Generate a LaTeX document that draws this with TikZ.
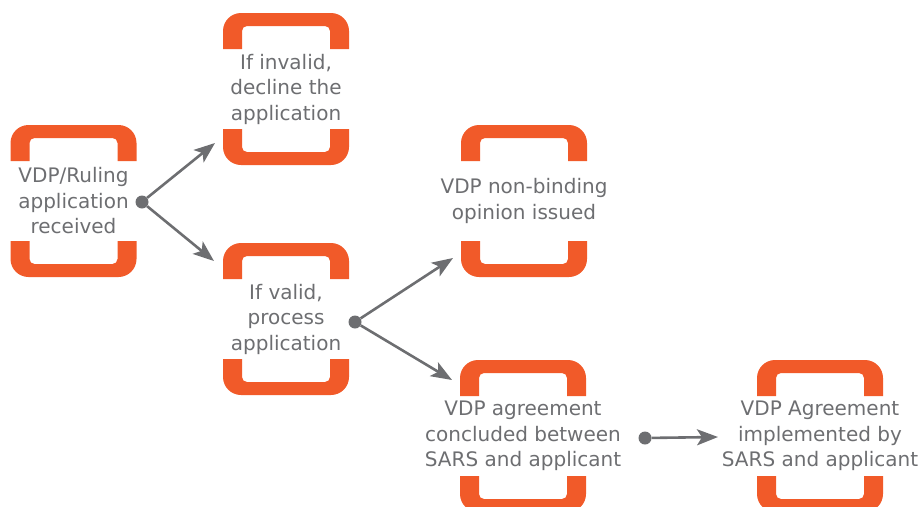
\documentclass[tikz,border=0pt]{standalone}
\usepackage{fontspec}
\setmainfont{DejaVu Sans}
\usetikzlibrary{arrows.meta}
\definecolor{sarsorange}{HTML}{F15A29}
\definecolor{sarsgrey}{HTML}{6D6E71}

\begin{document}
\begin{tikzpicture}[x=1pt, y=-1pt, >={Stealth[length=21pt, width=16pt, inset=5pt]}, line join=round,
	font=\fontsize{20}{25.5}\selectfont,
	stage/.style={minimum width=126pt, minimum height=152pt, inner sep=0pt, align=center, text=sarsgrey},
	knot/.style={circle, fill=sarsgrey, minimum size=13pt, inner sep=0pt},
	link/.style={->, line width=2.6pt, draw=sarsgrey}]
	\useasboundingbox (0,0) rectangle (920,506);
	
	% 1. Các bước
	\node[stage] (received) at (73.5,201) {VDP/Ruling\\application\\received};
	\node[stage] (invalid) at (286,89) {If invalid,\\decline the\\application};
	\node[stage] (valid) at (286,319) {If valid,\\process\\application};
	\node[stage] (opinion) at (524,201) {VDP non-binding\\opinion issued};
	\node[stage] (agreement) at (523,436) {VDP agreement\\concluded between\\SARS and applicant};
	\node[stage] (implemented) at (820,436) {VDP Agreement\\implemented by\\SARS and applicant};
	
	% 2. Khung ngoặc cam (trên và dưới)
	\foreach \n in {received,invalid,valid,opinion,agreement,implemented} {
		\begin{scope}[shift={(\n.center)}, shift={(-63,-76)}]
			\fill[sarsorange] (0,36) -- (0,18) arc[start angle=180, end angle=270, radius=18] -- (108,0)
				arc[start angle=270, end angle=360, radius=18] -- (126,36) -- (107,36) -- (107,18)
				arc[start angle=0, end angle=-90, radius=5] -- (24,13)
				arc[start angle=270, end angle=180, radius=5] -- (19,36) -- cycle;
		\end{scope}
		\begin{scope}[shift={(\n.center)}, shift={(-63,76)}, yscale=-1]
			\fill[sarsorange] (0,36) -- (0,18) arc[start angle=180, end angle=270, radius=18] -- (108,0)
				arc[start angle=270, end angle=360, radius=18] -- (126,36) -- (107,36) -- (107,18)
				arc[start angle=0, end angle=-90, radius=5] -- (24,13)
				arc[start angle=270, end angle=180, radius=5] -- (19,36) -- cycle;
		\end{scope}
	}
	
	% 3. Điểm nối và mũi tên
	\node[knot] (k1) at (142,202) {};
	\node[knot] (k2) at (355,322) {};
	\node[knot] (k3) at (645,438) {};
	\coordinate (t1) at (215,143);
	\coordinate (t2) at (214,261);
	\coordinate (t3) at (453,258);
	\coordinate (t4) at (452,380);
	\coordinate (t5) at (718,437);
	
	\draw[link] (k1) -- (t1);
	\draw[link] (k1) -- (t2);
	\draw[link] (k2) -- (t3);
	\draw[link] (k2) -- (t4);
	\draw[link] (k3) -- (t5);
\end{tikzpicture}
\end{document}
